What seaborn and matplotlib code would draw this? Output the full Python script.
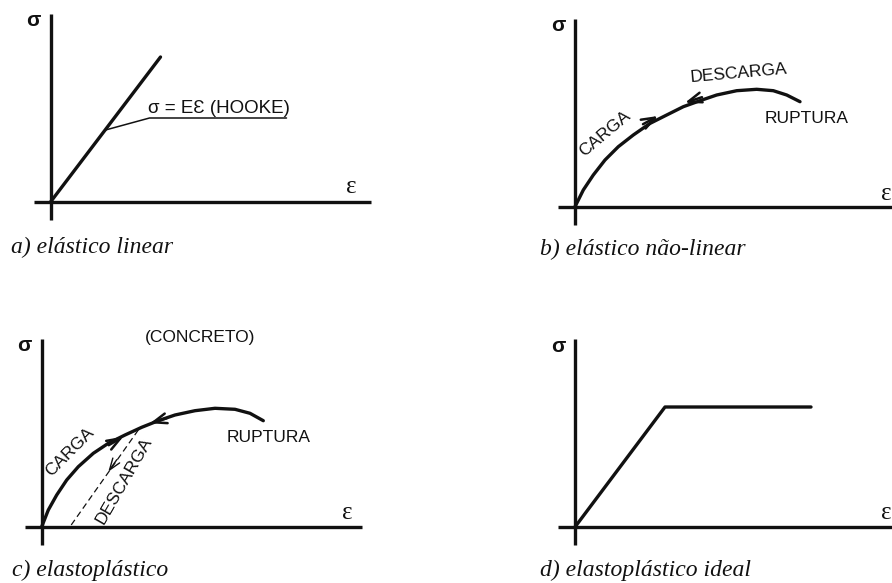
import numpy as np
import pandas as pd
import matplotlib
matplotlib.use("Agg")
import matplotlib.pyplot as plt
import seaborn as sns

# ---- data: stress-strain curves (strain, stress) in drawing units ----
# a) linear elastic
a_strain = [0, 110]
a_stress = [0, 145]
a_hooke_strain = [55, 99, 236]     # leader line to the Hooke label
a_hooke_stress = [72, 84, 84]

# b) nonlinear elastic: loading up to the peak, then towards rupture
b_strain = [0, 8.3, 18.3, 30, 43.3, 58.3, 75, 91.7, 108.3, 125,
            141.7, 161.7, 181.7, 198.3, 211.7, 225]
b_stress = [0, 16.7, 31.7, 46.7, 60, 71.7, 83.3, 91.7, 100, 106,
            111.7, 116, 117.4, 116, 111.7, 105]

# c) elastoplastic (concrete)
c_strain = [0, 6.6, 15, 25, 36.6, 51.6, 66.6, 83.3, 100, 116.6,
            133.3, 153.3, 173.3, 193.3, 208.3, 221.6]
c_stress = [0, 16.7, 31.7, 46.7, 60, 73.4, 83.4, 91.7, 99.4, 106,
            111.7, 116, 118.4, 117.4, 113.4, 106]
c_unload_strain = [96.6, 28.3]
c_unload_stress = [96.7, 0]

# d) ideal elastoplastic
d_strain = [0, 90, 236]
d_stress = [0, 120, 120]

captions = ["a) elástico linear", "b) elástico não-linear",
            "c) elastoplástico", "d) elastoplástico ideal"]

W, H = 892, 583
sns.set_theme(style="white")
plt.rcParams["font.family"] = ["Liberation Sans", "DejaVu Sans"]

fig = plt.figure(figsize=(W / 100, H / 100), dpi=100)
fig.patch.set_facecolor("white")

INK = "#111111"
LW = 2.4


def panel(ox, oy):
    """Transparent full-figure axes whose origin sits at pixel (ox, oy)."""
    ax = fig.add_axes([0, 0, 1, 1])
    ax.set_xlim(-ox, W - ox)
    ax.set_ylim(oy - H, oy)
    ax.axis("off")
    ax.patch.set_alpha(0)
    # stress / strain axes
    ax.plot([0, 0], [-18, 188], color=INK, lw=LW, solid_capstyle="butt")
    ax.plot([-17, 320], [0, 0], color=INK, lw=LW, solid_capstyle="butt")
    ax.text(-17, 181, "σ", fontsize=15, fontweight="bold", color=INK,
            ha="center", va="center")
    return ax


def eps_label(ax, x, y):
    ax.text(x, y, "ε", fontsize=18, color=INK, ha="center", va="center",
            family=["Liberation Serif", "DejaVu Serif"])


def curve(ax, x, y, **kw):
    df = pd.DataFrame({"strain": x, "stress": y})
    sns.lineplot(data=df, x="strain", y="stress", sort=False, ax=ax,
                 color=INK, legend=False, solid_joinstyle="round",
                 solid_capstyle="round", **kw)
    ax.set_xlabel("")
    ax.set_ylabel("")


def chevron(ax, tip, tail, lw=1.8, hl=0.8, hw=0.3):
    ax.annotate("", xy=tip, xytext=tail,
                arrowprops=dict(arrowstyle=f"->,head_length={hl},head_width={hw}",
                                color=INK, lw=lw, shrinkA=0, shrinkB=0))


lab = dict(fontsize=12.5, color=INK, ha="center", va="center")
cap = dict(fontsize=17, color=INK, ha="left", va="center",
           family=["Liberation Serif", "DejaVu Serif"], style="italic")

# ---- a) elástico linear ----
ax = panel(50.5, 202)
curve(ax, a_strain, a_stress, lw=LW)
ax.plot(a_hooke_strain, a_hooke_stress, color=INK, lw=1.1)
ax.text(168, 93.5, "σ = EƐ (HOOKE)", fontsize=13.5, color=INK,
        ha="center", va="center", family=["Liberation Sans", "DejaVu Sans"])
eps_label(ax, 301, 15)
ax.text(-39.5, -45, captions[0], **cap)

# ---- b) elástico não-linear ----
ax = panel(575, 206.7)
curve(ax, b_strain, b_stress, lw=LW)
chevron(ax, (83, 90.7), (68, 82.5))
chevron(ax, (110, 104), (127, 109.5))
ax.text(30, 73, "CARGA", rotation=40, **lab)
ax.text(164, 133, "DESCARGA", rotation=5, **lab)
ax.text(232, 88, "RUPTURA", **lab)
eps_label(ax, 311, 13)
ax.text(-35, -43, captions[1], **cap)

# ---- c) elastoplástico ----
ax = panel(41.7, 526.7)
curve(ax, c_strain, c_stress, lw=LW)
curve(ax, c_unload_strain, c_unload_stress, lw=0.9, linestyle=(0, (5, 3)))
chevron(ax, (81.6, 90), (67, 81.5))
chevron(ax, (108.3, 103.4), (125, 108.5))
chevron(ax, (66.6, 55), (75.1, 67.0), lw=1.0, hl=0.7, hw=0.25)
ax.text(28.5, 75, "CARGA", rotation=45, **lab)
ax.text(82, 46.5, "DESCARGA", rotation=60, **lab)
ax.text(227, 89.5, "RUPTURA", **lab)
ax.text(158, 189, "(CONCRETO)", **lab)
eps_label(ax, 306, 14)
ax.text(-30, -44, captions[2], **cap)

# ---- d) elastoplástico ideal ----
ax = panel(575, 527)
curve(ax, d_strain, d_stress, lw=LW)
eps_label(ax, 311, 14)
ax.text(-35, -43, captions[3], **cap)

fig.savefig("out.png", dpi=100, facecolor="white")
